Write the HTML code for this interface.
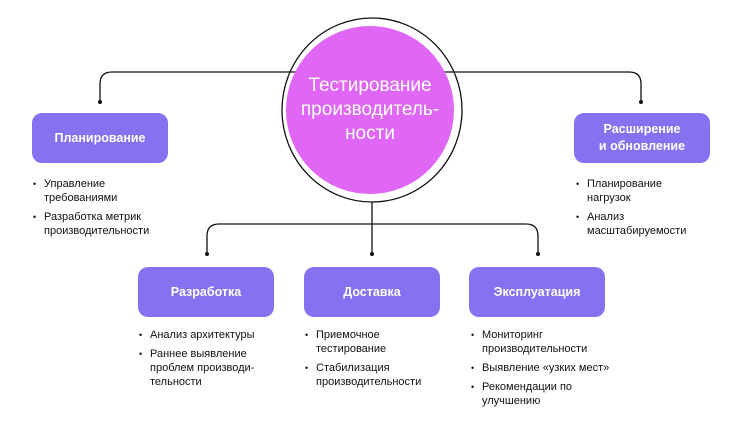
<!DOCTYPE html>
<html><head><meta charset="utf-8"><style>
body{margin:0;width:743px;height:428px;background:#fff;position:relative;font-family:"Liberation Sans",sans-serif;overflow:hidden}
.b{position:absolute;width:136px;height:50px;background:#8572f0;border-radius:10px;color:#fff;font-weight:bold;font-size:12.5px;display:flex;align-items:center;justify-content:center;text-align:center;line-height:17px}
ul{position:absolute;margin:0;padding:0;list-style:none;font-size:11px;color:#111;line-height:14px}
li{position:relative;padding-left:11px;margin-bottom:5px}
li:before{content:"•";position:absolute;left:0;font-size:9px}
.c{position:absolute;left:288px;top:25px;width:168px;height:168px;border-radius:50%;background:#e066f5;color:#fff;font-size:19px;line-height:24px;display:flex;align-items:center;justify-content:center;text-align:center}
</style></head><body>
<svg width="743" height="428" style="position:absolute;left:0;top:0">
<g fill="none" stroke="#111" stroke-width="1.3">
<path d="M100 102 V84 Q100 72 112 72 H629 Q641 72 641 84 V102"/>
<path d="M207 254 V236 Q207 224 219 224 H526 Q538 224 538 236 V254"/>
<line x1="372" y1="202" x2="372" y2="254"/>
<ellipse cx="372" cy="110" rx="90" ry="92"/>
</g>
<g fill="#111"><circle cx="100" cy="102" r="2"/><circle cx="641" cy="102" r="2"/><circle cx="207" cy="254" r="2"/><circle cx="372" cy="254" r="2"/><circle cx="538" cy="254" r="2"/></g>
</svg>
<div class="c" style="left:286px;top:26px;">Тестирование<br>производитель-<br>ности</div>
<div class="b" style="left:32px;top:113px">Планирование</div>
<div class="b" style="left:574px;top:113px">Расширение<br>и обновление</div>
<div class="b" style="left:138px;top:267px">Разработка</div>
<div class="b" style="left:304px;top:267px">Доставка</div>
<div class="b" style="left:469px;top:267px">Эксплуатация</div>
<ul style="left:33px;top:177px"><li>Управление<br>требованиями</li><li>Разработка метрик<br>производительности</li></ul>
<ul style="left:576px;top:177px"><li>Планирование<br>нагрузок</li><li>Анализ<br>масштабируемости</li></ul>
<ul style="left:139px;top:328px"><li>Анализ архитектуры</li><li>Раннее выявление<br>проблем производи-<br>тельности</li></ul>
<ul style="left:305px;top:328px"><li>Приемочное<br>тестирование</li><li>Стабилизация<br>производительности</li></ul>
<ul style="left:471px;top:328px"><li>Мониторинг<br>производительности</li><li>Выявление «узких мест»</li><li>Рекомендации по<br>улучшению</li></ul>
</body></html>
